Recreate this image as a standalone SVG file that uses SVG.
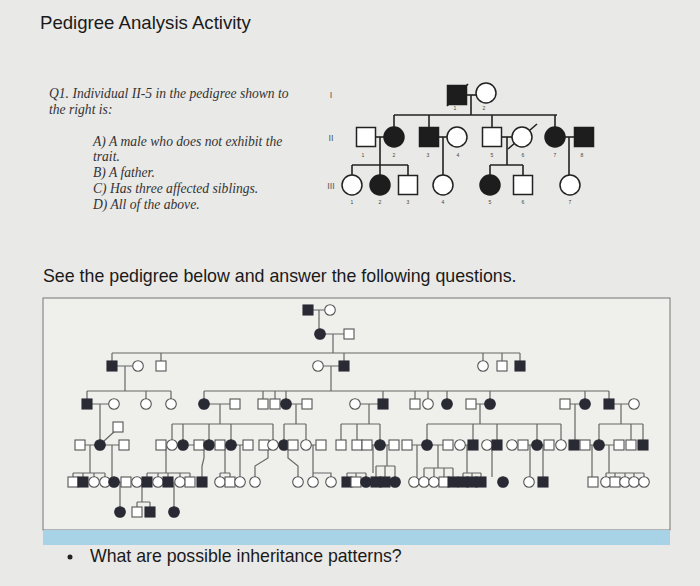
<svg xmlns="http://www.w3.org/2000/svg" xmlns:xlink="http://www.w3.org/1999/xlink" width="700" height="586" viewBox="0 0 700 586">
<style>
.t{font-family:"Liberation Sans",Arial,sans-serif;fill:#1a1a1a}
.q{font-family:"Liberation Serif","Times New Roman",serif;font-style:italic;font-size:13.6px;fill:#333}
.n{font-family:"Liberation Sans",Arial,sans-serif;font-size:5px;fill:#444;text-anchor:middle}
.g{font-family:"Liberation Sans",Arial,sans-serif;font-size:9px;fill:#555;text-anchor:middle}
.o{fill:#fff;stroke:#555;stroke-width:1.1}
.f{fill:#2a2a35;stroke:#2a2a35;stroke-width:1.1}
.O{fill:#fff;stroke:#222;stroke-width:1.5}
.F{fill:#1d1d1d;stroke:#1d1d1d;stroke-width:1.5}
.c path,.c line,.c polyline{fill:none;stroke:#666;stroke-width:1.2}
.k path,.k line{fill:none;stroke:#222;stroke-width:1.6}
</style>
<defs>
<rect id="m" x="-5" y="-5" width="10" height="10"/>
<circle id="w" r="5.3"/>
<rect id="M" x="-9.5" y="-9.5" width="19" height="19"/>
<circle id="W" r="10"/>
</defs>
<rect width="700" height="586" fill="#e9e9e7"/>
<text class="t" x="40" y="29" font-size="18.6">Pedigree Analysis Activity</text>
<text class="q" x="49" y="98">Q1. Individual II-5 in the pedigree shown to</text>
<text class="q" x="49" y="114">the right is:</text>
<text class="q" x="93" y="146">A) A male who does not exhibit the</text>
<text class="q" x="93" y="161">trait.</text>
<text class="q" x="93" y="177">B) A father.</text>
<text class="q" x="93" y="193">C) Has three affected siblings.</text>
<text class="q" x="93" y="209">D) All of the above.</text>

<!-- top pedigree -->
<text class="g" x="331" y="98">I</text>
<text class="g" x="331" y="141">II</text>
<text class="g" x="331" y="189">III</text>
<g class="k" id="top-connectors">
<line x1="467" y1="95" x2="476" y2="95"/><line x1="471" y1="95" x2="471" y2="115"/>
<line x1="394" y1="115" x2="557" y2="115"/>
<line x1="394" y1="115" x2="394" y2="127"/><line x1="429" y1="115" x2="429" y2="127"/>
<line x1="492" y1="115" x2="492" y2="127"/><line x1="555" y1="115" x2="555" y2="127"/>
<line x1="375" y1="137" x2="384" y2="137"/><line x1="380" y1="137" x2="380" y2="165"/>
<line x1="352" y1="165" x2="408" y2="165"/><line x1="352" y1="165" x2="352" y2="175"/><line x1="380" y1="165" x2="380" y2="175"/><line x1="408" y1="165" x2="408" y2="175"/>
<line x1="438" y1="137" x2="447" y2="137"/><line x1="443" y1="137" x2="443" y2="175"/>
<line x1="502" y1="137" x2="512" y2="137"/><line x1="507" y1="137" x2="507" y2="165"/>
<line x1="490" y1="165" x2="523" y2="165"/><line x1="490" y1="165" x2="490" y2="175"/><line x1="523" y1="165" x2="523" y2="175"/>
<line x1="565" y1="137" x2="575" y2="137"/><line x1="569" y1="137" x2="569" y2="175"/>
<line x1="447" y1="106" x2="468" y2="84"/><line x1="508" y1="149" x2="537" y2="124"/>
</g>
<g id="tI1"><use href="#M" class="F" x="457" y="95"/><text class="n" x="455" y="110">1</text></g>
<g id="tI2"><use href="#W" class="O" x="486" y="93"/><text class="n" x="484" y="110">2</text></g>
<g id="tII1"><use href="#M" class="O" x="366" y="137"/><text class="n" x="363" y="157">1</text></g>
<g id="tII2"><use href="#W" class="F" x="394" y="137"/><text class="n" x="394" y="157">2</text></g>
<g id="tII3"><use href="#M" class="F" x="429" y="137"/><text class="n" x="428" y="157">3</text></g>
<g id="tII4"><use href="#W" class="O" x="457" y="137"/><text class="n" x="458" y="157">4</text></g>
<g id="tII5"><use href="#M" class="O" x="492" y="137"/><text class="n" x="492" y="157">5</text></g>
<g id="tII6"><use href="#W" class="O" x="522" y="137"/><text class="n" x="523" y="157">6</text></g>
<g id="tII7"><use href="#W" class="F" x="555" y="137"/><text class="n" x="555" y="157">7</text></g>
<g id="tII8"><use href="#M" class="F" x="584" y="137"/><text class="n" x="582" y="157">8</text></g>
<g id="tIII1"><use href="#W" class="O" x="352" y="185"/><text class="n" x="352" y="204">1</text></g>
<g id="tIII2"><use href="#W" class="F" x="380" y="185"/><text class="n" x="380" y="204">2</text></g>
<g id="tIII3"><use href="#M" class="O" x="408" y="185"/><text class="n" x="408" y="204">3</text></g>
<g id="tIII4"><use href="#W" class="O" x="443" y="185"/><text class="n" x="443" y="204">4</text></g>
<g id="tIII5"><use href="#W" class="F" x="490" y="185"/><text class="n" x="490" y="204">5</text></g>
<g id="tIII6"><use href="#M" class="O" x="523" y="185"/><text class="n" x="523" y="204">6</text></g>
<g id="tIII7"><use href="#W" class="O" x="570" y="185"/><text class="n" x="570" y="204">7</text></g>

<text class="t" x="43" y="282" font-size="17.8">See the pedigree below and answer the following questions.</text>
<rect x="43" y="298" width="627" height="232" fill="#efefeb" stroke="#777" stroke-width="1"/>
<rect x="43" y="530" width="627" height="15" fill="#a8d3e6"/>
<circle cx="70" cy="557" r="2.5" fill="#222"/>
<text class="t" x="90" y="562" font-size="17.7">What are possible inheritance patterns?</text>

<g class="c" id="connectors">
<path d="M313 310H325M319 310V329M325 334H344M333 334V353M112 353H520M112 353V361M161 353V361M344 353V361M483 353V361M502 353V361M520 353V361"/>
<path d="M117 366H133M125 366V391M87 391H171M87 391V399M146 391V399M171 391V399M323 366H339M331 366V391M204 391H609M204 391V399M263 391V399M275 391V399M286 391V399M383 391V399M415 391V399M428 391V399M447 391V399M490 391V399M585 391V399M609 391V399"/>
<path d="M92 404H109M209 404H230M291 404H302M360 404H378M476 404H485M570 404H580M614 404H629"/>
<path d="M100 404V440M220 404V424M172 424H273M172 424V440M183 424V440M209 424V440M231 424V440M273 424V440M296 404V424M284 424H306M284 424V440M306 424V440M369 404V424M341 424H380M341 424V440M357 424V440M380 424V440M480 404V424M427 424H561M427 424V440M473 424V440M497 424V440M537 424V440M561 424V440M575 404V440M621 404V424M599 424H643M599 424V440M631 424V440M643 424V440"/>
<path d="M85 445H95M105 445H119M104 441L115 431M166 445V473M147 473H190M147 473V477M158 473V477M168 473V477M180 473V477M190 473V477M90 445V473M73 473H105M73 473V477M83 473V477M94 473V477M105 473V477M112 445V477M204 445V458L202 466V477M225 445V473M220 473H230M220 473V477M230 473V477M240 445V477M268 445V458L255 466V477M288 445V458L298 466V477M313 445V473H331V477M313 473V477"/>
<path d="M189 445H194M236 445H243M311 445H316M372 445H375M385 445H389M412 445H422M432 445H443M465 445H468M528 445H532M542 445H544M590 445H594M604 445H614M166 445H161"/>
<path d="M373 445V473M347 473H366M347 473V477M356 473V477M366 473V477M387 445V466M376 466H395M376 466V477M385 466V477M395 466V477M417 445V477M438 445V468M424 468H453M424 468V477M434 468V477M444 468V477M453 468V477M467 445V473M463 473H481M463 473V477M472 473V477M481 473V477M492 445V477M530 445V477M543 445V477M592 445V477M609 445V473M606 473H644M606 473V477M615 473V477M625 473V477M634 473V477M644 473V477"/>
<path d="M118 482H121M120 482V507M142 482V502M137 502H150M137 502V507M150 502V507M174 482V507"/>
</g>

<g id="L1"><use href="#m" class="f" x="308" y="310"/></g><g id="L2"><use href="#w" class="o" x="330" y="310"/></g>
<g id="L3"><use href="#w" class="f" x="320" y="334"/></g><g id="L4"><use href="#m" class="o" x="349" y="334"/></g>
<g id="L5"><use href="#m" class="f" x="112" y="366"/></g><g id="L6"><use href="#w" class="o" x="138" y="366"/></g><g id="L7"><use href="#m" class="o" x="161" y="366"/></g><g id="L8"><use href="#w" class="o" x="318" y="366"/></g><g id="L9"><use href="#m" class="f" x="344" y="366"/></g><g id="L10"><use href="#w" class="o" x="483" y="366"/></g><g id="L11"><use href="#m" class="o" x="502" y="366"/></g><g id="L12"><use href="#m" class="f" x="520" y="366"/></g>
<g id="D1"><use href="#m" class="f" x="87" y="404"/></g><g id="D2"><use href="#w" class="o" x="114" y="404"/></g><g id="D3"><use href="#w" class="o" x="146" y="404"/></g><g id="D4"><use href="#w" class="o" x="171" y="404"/></g><g id="D5"><use href="#w" class="f" x="204" y="404"/></g><g id="D6"><use href="#m" class="o" x="235" y="404"/></g><g id="D7"><use href="#m" class="o" x="263" y="404"/></g><g id="D8"><use href="#m" class="o" x="275" y="404"/></g><g id="D9"><use href="#w" class="f" x="286" y="404"/></g><g id="D10"><use href="#m" class="o" x="307" y="404"/></g><g id="D11"><use href="#w" class="o" x="355" y="404"/></g><g id="D12"><use href="#m" class="f" x="383" y="404"/></g><g id="D13"><use href="#m" class="o" x="415" y="404"/></g><g id="D14"><use href="#w" class="o" x="428" y="404"/></g><g id="D15"><use href="#w" class="f" x="447" y="404"/></g><g id="D16"><use href="#m" class="o" x="471" y="404"/></g><g id="D17"><use href="#w" class="f" x="490" y="404"/></g><g id="D18"><use href="#m" class="o" x="565" y="404"/></g><g id="D19"><use href="#w" class="f" x="585" y="404"/></g><g id="D20"><use href="#m" class="f" x="609" y="404"/></g><g id="D21"><use href="#w" class="o" x="634" y="404"/></g>
<g id="V1"><use href="#m" class="o" x="80" y="445"/></g><g id="V2"><use href="#w" class="f" x="100" y="445"/></g><g id="V3"><use href="#m" class="o" x="124" y="445"/></g><g id="V4"><use href="#m" class="o" x="118" y="427"/></g><g id="V5"><use href="#m" class="o" x="161" y="445"/></g><g id="V6"><use href="#w" class="o" x="172" y="445"/></g><g id="V7"><use href="#w" class="f" x="183" y="445"/></g><g id="V8"><use href="#m" class="o" x="199" y="445"/></g><g id="V9"><use href="#w" class="f" x="209" y="445"/></g><g id="V10"><use href="#m" class="o" x="220" y="445"/></g><g id="V11"><use href="#w" class="f" x="231" y="445"/></g><g id="V12"><use href="#m" class="o" x="248" y="445"/></g><g id="V13"><use href="#m" class="o" x="264" y="445"/></g><g id="V14"><use href="#w" class="o" x="273" y="445"/></g><g id="V15"><use href="#w" class="f" x="284" y="445"/></g><g id="V16"><use href="#m" class="o" x="293" y="445"/></g><g id="V17"><use href="#w" class="o" x="306" y="445"/></g><g id="V18"><use href="#m" class="o" x="321" y="445"/></g><g id="V19"><use href="#m" class="o" x="341" y="445"/></g><g id="V20"><use href="#m" class="o" x="357" y="445"/></g><g id="V21"><use href="#m" class="o" x="367" y="445"/></g><g id="V22"><use href="#w" class="f" x="380" y="445"/></g><g id="V23"><use href="#m" class="o" x="394" y="445"/></g><g id="V24"><use href="#m" class="o" x="407" y="445"/></g><g id="V25"><use href="#w" class="f" x="427" y="445"/></g><g id="V26"><use href="#m" class="o" x="448" y="445"/></g><g id="V27"><use href="#w" class="o" x="460" y="445"/></g><g id="V28"><use href="#m" class="f" x="473" y="445"/></g><g id="V29"><use href="#w" class="o" x="487" y="445"/></g><g id="V30"><use href="#m" class="f" x="497" y="445"/></g><g id="V31"><use href="#w" class="o" x="512" y="445"/></g><g id="V32"><use href="#m" class="o" x="523" y="445"/></g><g id="V33"><use href="#w" class="f" x="537" y="445"/></g><g id="V34"><use href="#m" class="o" x="549" y="445"/></g><g id="V35"><use href="#w" class="o" x="561" y="445"/></g><g id="V36"><use href="#m" class="f" x="574" y="445"/></g><g id="V37"><use href="#m" class="o" x="585" y="445"/></g><g id="V38"><use href="#w" class="f" x="599" y="445"/></g><g id="V39"><use href="#m" class="o" x="619" y="445"/></g><g id="V40"><use href="#m" class="o" x="631" y="445"/></g><g id="V41"><use href="#m" class="f" x="643" y="445"/></g>
<g id="S1"><use href="#m" class="o" x="73" y="482"/></g><g id="S2"><use href="#m" class="f" x="83" y="482"/></g><g id="S3"><use href="#w" class="o" x="94" y="482"/></g><g id="S4"><use href="#w" class="o" x="105" y="482"/></g><g id="S5"><use href="#w" class="f" x="114" y="482"/></g><g id="S6"><use href="#m" class="o" x="126" y="482"/></g><g id="S7"><use href="#w" class="o" x="137" y="482"/></g><g id="S8"><use href="#m" class="f" x="147" y="482"/></g><g id="S9"><use href="#w" class="o" x="158" y="482"/></g><g id="S10"><use href="#m" class="f" x="168" y="482"/></g><g id="S11"><use href="#w" class="o" x="180" y="482"/></g><g id="S12"><use href="#m" class="o" x="190" y="482"/></g><g id="S13"><use href="#m" class="f" x="202" y="482"/></g><g id="S14"><use href="#w" class="o" x="220" y="482"/></g><g id="S15"><use href="#m" class="o" x="230" y="482"/></g><g id="S16"><use href="#w" class="o" x="240" y="482"/></g><g id="S17"><use href="#w" class="o" x="255" y="482"/></g><g id="S18"><use href="#w" class="o" x="298" y="482"/></g><g id="S19"><use href="#w" class="o" x="313" y="482"/></g><g id="S20"><use href="#w" class="o" x="331" y="482"/></g><g id="S21"><use href="#m" class="f" x="347" y="482"/></g><g id="S22"><use href="#m" class="o" x="356" y="482"/></g><g id="S23"><use href="#w" class="f" x="366" y="482"/></g><g id="S24"><use href="#m" class="f" x="376" y="482"/></g><g id="S25"><use href="#m" class="f" x="385" y="482"/></g><g id="S26"><use href="#w" class="f" x="395" y="482"/></g><g id="S27"><use href="#w" class="o" x="414" y="482"/></g><g id="S28"><use href="#w" class="o" x="424" y="482"/></g><g id="S29"><use href="#w" class="o" x="434" y="482"/></g><g id="S30"><use href="#m" class="o" x="444" y="482"/></g><g id="S31"><use href="#m" class="f" x="453" y="482"/></g><g id="S32"><use href="#m" class="f" x="463" y="482"/></g><g id="S33"><use href="#m" class="f" x="472" y="482"/></g><g id="S34"><use href="#m" class="f" x="481" y="482"/></g><g id="S35"><use href="#w" class="f" x="503" y="482"/></g><g id="S36"><use href="#w" class="o" x="529" y="482"/></g><g id="S37"><use href="#m" class="f" x="543" y="482"/></g><g id="S38"><use href="#m" class="o" x="593" y="482"/></g><g id="S39"><use href="#w" class="o" x="606" y="482"/></g><g id="S40"><use href="#m" class="o" x="615" y="482"/></g><g id="S41"><use href="#w" class="o" x="625" y="482"/></g><g id="S42"><use href="#w" class="o" x="634" y="482"/></g><g id="S43"><use href="#w" class="o" x="644" y="482"/></g>
<g id="E1"><use href="#w" class="f" x="120" y="512"/></g><g id="E2"><use href="#m" class="o" x="137" y="512"/></g><g id="E3"><use href="#m" class="f" x="150" y="512"/></g><g id="E4"><use href="#w" class="f" x="174" y="512"/></g>
</svg>
